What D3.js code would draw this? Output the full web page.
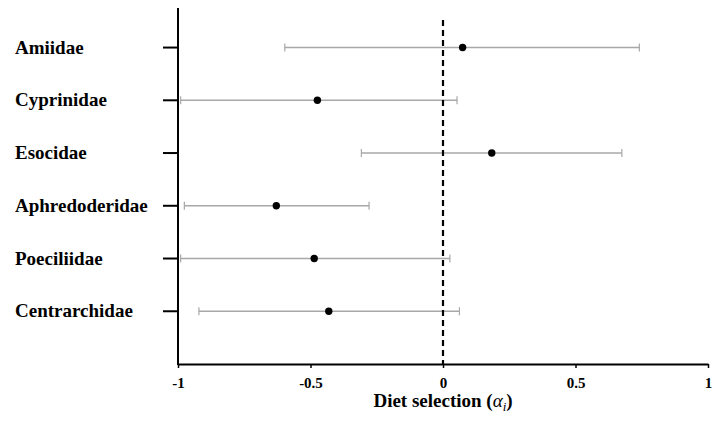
<!DOCTYPE html>
<html>
<head>
<meta charset="utf-8">
<script src="https://cdn.jsdelivr.net/npm/d3@7"></script>
<style>
  body { margin: 0; background: #fff; }
</style>
</head>
<body>
<div id="chart"></div>
<script>
const width = 721;
const height = 421;
const marginTop = 8;
const marginLeft = 178;
const marginRight = 13;
const marginBottom = 57;

// families, top to bottom
const families = ["Amiidae", "Cyprinidae", "Esocidae", "Aphredoderidae", "Poeciliidae", "Centrarchidae"];
const alpha = [0.074, -0.474, 0.184, -0.629, -0.486, -0.431];
const lower = [-0.597, -0.99, -0.308, -0.976, -0.99, -0.921];
const upper = [0.741, 0.053, 0.675, -0.279, 0.026, 0.062];
const xTicks = [-1, -0.5, 0, 0.5, 1];
const xTickLabels = ["-1", "-0.5", "0", "0.5", "1"];

const data = families.map((f, i) => ({
    name: f, pos: families.length - i, a: alpha[i], lo: lower[i], hi: upper[i]
}));

const svg = d3.select("#chart")
    .append("svg")
    .attr("width", width)
    .attr("height", height)
    .attr("viewBox", [0, 0, width, height])
    .style("font-family", "'Liberation Serif', 'Times New Roman', serif");

const x = d3.scaleLinear()
    .domain([-1, 1])
    .range([marginLeft, width - marginRight]);

const y = d3.scaleLinear()
    .domain([0, 6.75])
    .range([height - marginBottom, marginTop]);

// error bars
const bars = svg.append("g")
    .attr("stroke", "#a8a8a8")
    .attr("stroke-width", 1.5);

bars.selectAll("line.bar")
    .data(data)
    .join("line")
    .attr("class", "bar")
    .attr("x1", d => x(d.lo))
    .attr("x2", d => x(d.hi))
    .attr("y1", d => y(d.pos))
    .attr("y2", d => y(d.pos));

bars.selectAll("line.cap")
    .data(data.flatMap(d => [{ v: d.lo, pos: d.pos }, { v: d.hi, pos: d.pos }]))
    .join("line")
    .attr("class", "cap")
    .attr("stroke-width", 1.2)
    .attr("x1", d => x(d.v))
    .attr("x2", d => x(d.v))
    .attr("y1", d => y(d.pos) - 4)
    .attr("y2", d => y(d.pos) + 4);

// zero reference line
svg.append("line")
    .attr("x1", x(0))
    .attr("x2", x(0))
    .attr("y1", 20)
    .attr("y2", y(0))
    .attr("stroke", "#000")
    .attr("stroke-width", 2.2)
    .attr("stroke-dasharray", "6,4");

// points
svg.append("g")
    .selectAll("circle")
    .data(data)
    .join("circle")
    .attr("cx", d => x(d.a))
    .attr("cy", d => y(d.pos))
    .attr("r", 3.7)
    .attr("fill", "#000");

// x axis
const xAxis = svg.append("g")
    .attr("transform", `translate(0,${y(0)})`)
    .call(d3.axisBottom(x).tickValues(xTicks).tickFormat((d, i) => xTickLabels[i]).tickSize(4).tickSizeOuter(0).tickPadding(9));
xAxis.select(".domain").attr("stroke", "#000").attr("stroke-width", 2);
xAxis.selectAll(".tick line").attr("stroke", "#000").attr("stroke-width", 1.5);
xAxis.selectAll("text")
    .attr("font-family", "'Liberation Serif', serif")
    .attr("font-size", 15)
    .attr("font-weight", "bold")
    .attr("fill", "#000");

// y axis
svg.append("line")
    .attr("x1", x(-1)).attr("x2", x(-1))
    .attr("y1", marginTop).attr("y2", y(0) + 1)
    .attr("stroke", "#000")
    .attr("stroke-width", 2);

svg.append("g")
    .selectAll("line")
    .data(data)
    .join("line")
    .attr("x1", x(-1) - 15)
    .attr("x2", x(-1))
    .attr("y1", d => y(d.pos))
    .attr("y2", d => y(d.pos))
    .attr("stroke", "#000")
    .attr("stroke-width", 2);

svg.append("g")
    .selectAll("text")
    .data(data)
    .join("text")
    .attr("x", 15)
    .attr("y", d => y(d.pos))
    .attr("dy", "0.32em")
    .attr("font-size", 19)
    .attr("font-weight", "bold")
    .text(d => d.name);

// axis title
const title = svg.append("text")
    .attr("x", x(0))
    .attr("y", 407)
    .attr("text-anchor", "middle")
    .attr("font-size", 19)
    .attr("font-weight", "bold");
title.append("tspan").text("Diet selection (");
title.append("tspan").attr("font-style", "italic").attr("font-weight", "normal").text("α");
title.append("tspan").attr("font-style", "italic").attr("font-weight", "normal").attr("font-size", 13).attr("dy", 4).text("i");
title.append("tspan").attr("dy", -4).text(")");
</script>
</body>
</html>
